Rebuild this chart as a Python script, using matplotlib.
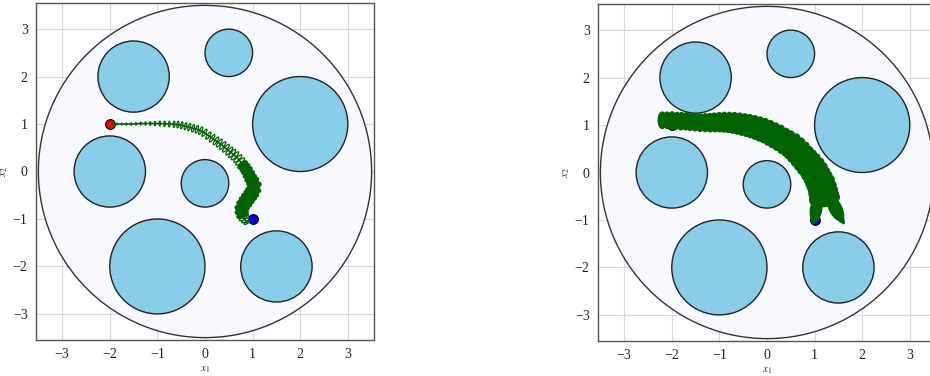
import numpy as np
import matplotlib
matplotlib.use("Agg")
import matplotlib.pyplot as plt
from matplotlib.patches import Circle, Ellipse

# ---------------- data ----------------
workspace_r = 3.5
obstacle_x = [-1.5, 0.5, 2.0, -2.0, 0.0, -1.0, 1.5]
obstacle_y = [2.0, 2.5, 1.0, 0.0, -0.25, -2.0, -2.0]
obstacle_r = [0.75, 0.5, 1.0, 0.75, 0.5, 1.0, 0.75]
start_xy = (-2.0, 1.0)
goal_xy = (1.0, -1.0)
tick_values = [-3, -2, -1, 0, 1, 2, 3]

# left panel: trajectory of uncertainty ellipses (centre, size across path)
left_x = [-1.95, -1.85, -1.75, -1.65, -1.55, -1.45, -1.35, -1.25, -1.15, -1.05, -0.95, -0.85, -0.75,
          -0.65, -0.57, -0.49, -0.41, -0.33, -0.25, -0.17, -0.09, -0.01, 0.07, 0.15, 0.23, 0.30,
          0.37, 0.44, 0.51, 0.57, 0.63, 0.69, 0.74, 0.79, 0.84, 0.88, 0.92, 0.96, 1.00, 1.04,
          1.03, 0.99, 0.95, 0.90, 0.85, 0.80, 0.77, 0.77, 0.79, 0.82, 0.85, 0.88]
left_y = [1.0, 1.0, 1.0, 1.0, 1.0, 1.005, 1.01, 1.01, 1.01, 1.01, 1.01, 1.005, 1.0,
          0.995, 0.99, 0.975, 0.955, 0.935, 0.91, 0.89, 0.86, 0.815, 0.755, 0.70, 0.645, 0.60,
          0.545, 0.49, 0.43, 0.38, 0.33, 0.27, 0.21, 0.14, 0.08, 0.02, -0.06, -0.14, -0.21, -0.29,
          -0.37, -0.44, -0.50, -0.57, -0.64, -0.71, -0.78, -0.85, -0.92, -0.98, -1.03, -1.08]
left_size = [0.03, 0.035, 0.04, 0.045, 0.05, 0.055, 0.06, 0.07, 0.08, 0.09, 0.10, 0.11, 0.12,
             0.13, 0.14, 0.145, 0.15, 0.155, 0.16, 0.165, 0.17, 0.175, 0.18, 0.185, 0.19, 0.195,
             0.20, 0.205, 0.21, 0.215, 0.22, 0.225, 0.23, 0.235, 0.24, 0.245, 0.25, 0.26, 0.27, 0.28,
             0.29, 0.30, 0.30, 0.30, 0.30, 0.29, 0.28, 0.27, 0.25, 0.22, 0.18, 0.13]

# right panel
right_x = [-2.2, -2.1, -2.0, -1.9, -1.8, -1.7, -1.6, -1.5, -1.4, -1.3,
           -1.2, -1.1, -1.0, -0.9, -0.8, -0.7, -0.6, -0.5, -0.4, -0.3, -0.2, -0.1,
           0.0, 0.1, 0.2, 0.3, 0.4, 0.5,
           0.58, 0.66, 0.74, 0.81, 0.88, 0.95,
           1.0, 1.05, 1.09, 1.13, 1.16, 1.18, 1.2, 1.21]
right_y = [1.1, 1.1, 1.1, 1.09, 1.08, 1.08, 1.07, 1.06, 1.05, 1.05,
           1.05, 1.055, 1.06, 1.06, 1.055, 1.045, 1.03, 1.01, 0.99, 0.965, 0.935, 0.9,
           0.86, 0.81, 0.76, 0.7, 0.64, 0.58,
           0.51, 0.43, 0.34, 0.26, 0.18, 0.1,
           0.02, -0.07, -0.15, -0.23, -0.32, -0.41, -0.5, -0.56]
right_size = [0.35, 0.35, 0.36, 0.36, 0.37, 0.37, 0.37, 0.37, 0.37, 0.38,
              0.39, 0.40, 0.41, 0.42, 0.43, 0.44, 0.45, 0.46, 0.47, 0.48, 0.49, 0.50,
              0.50, 0.51, 0.52, 0.52, 0.53, 0.54,
              0.54, 0.55, 0.55, 0.56, 0.57, 0.57,
              0.58, 0.58, 0.59, 0.60, 0.60, 0.61, 0.62, 0.63]
# final split of the right trajectory (two tapering legs)
tail_x = [1.03, 1.00, 0.98, 1.44, 1.51, 1.57]
tail_y = [-0.78, -0.90, -0.99, -0.76, -0.89, -0.99]
tail_len = [0.50, 0.34, 0.18, 0.55, 0.36, 0.20]
tail_wid = [0.24, 0.14, 0.07, 0.26, 0.15, 0.07]
tail_ang = [81, 81, 81, 117, 117, 117]

# ---------------- style ----------------
plt.rcParams["font.family"] = ["Liberation Serif", "DejaVu Serif"]
plt.rcParams["mathtext.fontset"] = "stix"
GREEN = "#006400"

fig = plt.figure(figsize=(9.3, 3.76), dpi=100)
axA = fig.add_axes([36 / 930, 36 / 376, 338 / 930, 337 / 376])
axB = fig.add_axes([598 / 930, 35 / 376, 338 / 930, 337 / 376])


def draw_env(ax):
    ax.set_xlim(-3.55, 3.55)
    ax.set_ylim(-3.55, 3.55)
    ax.set_axisbelow(True)
    ax.grid(True, color="#d9d9d9", lw=0.8)
    ax.add_patch(Circle((0, 0), workspace_r, fc="#f8f8ff", ec="#333333", lw=1.0, zorder=1))
    for x, y, r in zip(obstacle_x, obstacle_y, obstacle_r):
        ax.add_patch(Circle((x, y), r, fc="#87ceeb", ec="#222222", lw=1.0, zorder=2))
    ax.plot([start_xy[0]], [start_xy[1]], "o", color="red", mec="black", mew=0.8, ms=7, zorder=3)
    ax.plot([goal_xy[0]], [goal_xy[1]], "o", color="blue", mec="black", mew=0.8, ms=7, zorder=3)
    ax.set_xticks(tick_values)
    ax.set_yticks(tick_values)
    ax.tick_params(length=0, labelsize=10, pad=6, colors="#222222")
    for s in ax.spines.values():
        s.set_color("#555555")
        s.set_linewidth(1.0)
    ax.set_xlabel(r"$x_1$", fontsize=8, labelpad=2, color="#333333")
    ax.set_ylabel(r"$x_2$", fontsize=8, labelpad=2, color="#333333")


def draw_traj(ax, xs, ys, sizes, lw, fill_min):
    xs = np.asarray(xs, float)
    ys = np.asarray(ys, float)
    ang = np.degrees(np.arctan2(np.gradient(ys), np.gradient(xs)))
    for x, y, s, a in zip(xs, ys, sizes, ang):
        filled = s >= fill_min
        ax.add_patch(Ellipse((x, y), width=s * (0.5 if filled else 0.3), height=s, angle=a,
                             fc=GREEN if filled else "none", ec=GREEN, lw=lw, zorder=4))


draw_env(axA)
axA.plot(left_x, left_y, color=GREEN, lw=1.2, zorder=4)
draw_traj(axA, left_x, left_y, left_size, 0.9, 0.235)

draw_env(axB)
draw_traj(axB, right_x, right_y, right_size, 0.8, 0.0)
for x, y, l, w, a in zip(tail_x, tail_y, tail_len, tail_wid, tail_ang):
    axB.add_patch(Ellipse((x, y), width=l, height=w, angle=a, fc=GREEN, ec=GREEN, lw=0.8, zorder=4))

fig.savefig("out.png", dpi=100)
